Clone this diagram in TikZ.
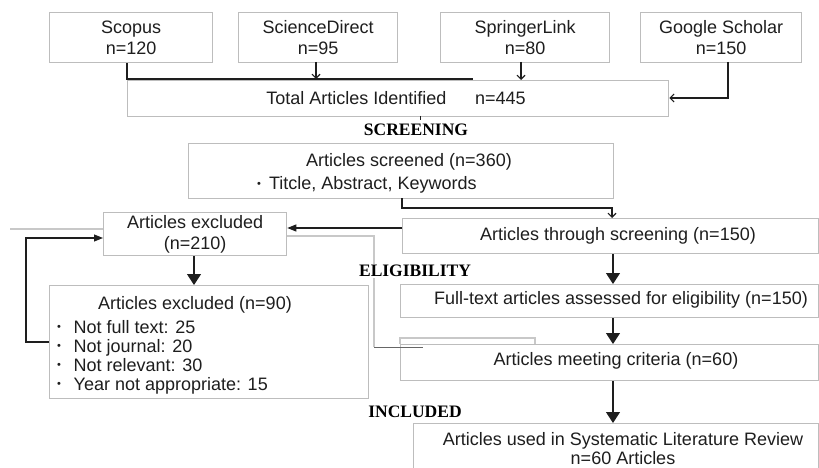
\documentclass[tikz,border=0pt]{standalone}
\usepackage{fontspec}
\setmainfont{Liberation Sans}
\newfontfamily\hdrfont{Liberation Serif}
\usetikzlibrary{arrows.meta}
\definecolor{boxgray}{HTML}{BDBDBD}
\definecolor{lightln}{HTML}{C8C8C8}
\definecolor{ink}{HTML}{1E1E1E}
\newcommand{\smbul}{\raisebox{0.25ex}{\fontsize{11}{11}\selectfont\textbullet}}
\begin{document}
\begin{tikzpicture}[x=1pt,y=-1pt,
  box/.style={draw=boxgray, line width=1.3pt, inner sep=0pt, anchor=north west,
    align=center, text=ink, font=\fontsize{18}{21}\selectfont},
  txt/.style={inner sep=0pt, text=ink, font=\fontsize{18}{19}\selectfont},
  hdr/.style={inner sep=1pt, fill=white, text=black, font=\hdrfont\bfseries\fontsize{17.5}{18}\selectfont},
  conn/.style={draw=ink, line width=1.1pt},
  gline/.style={draw=lightln, line width=1.3pt},
  bigarrow/.style={conn, -{Triangle[width=14pt,length=11pt]}},
  midarrow/.style={conn, -{Triangle[width=7pt,length=9pt]}},
  smallarrow/.style={conn, -{Straight Barb[length=4pt,width=8pt]}}
]
\useasboundingbox (0,0) rectangle (819,468);
\fill[white] (0,0) rectangle (819,468);

% light lines (behind)
\draw[gline] (10,229) -- (103,229);
\draw[gline] (286,236) -- (374,236) -- (374,347);
\draw[gline] (400,344) -- (400,338) -- (535,338) -- (535,344);

% source boxes
\node[box, minimum width=163pt, minimum height=50pt] (scopus) at (49,12) {Scopus\\n=120};
\node[box, minimum width=159pt, minimum height=50pt] (sd) at (238,12) {ScienceDirect\\n=95};
\node[box, minimum width=169pt, minimum height=50pt] (sl) at (440,12) {SpringerLink\\n=80};
\node[box, minimum width=161pt, minimum height=50pt] (gs) at (640,12) {Google Scholar\\n=150};

% total
\node[box, minimum width=541pt, minimum height=36pt] (total) at (127,80) {};
\node[txt] (totalt) at (396,98) {Total Articles Identified\hspace{1.6em}n=445};

\node[hdr] (hscreen) at (416,130) {SCREENING};

% screened
\node[box, minimum width=425pt, minimum height=55pt] (screened) at (188,143) {};
\node[txt] (scrt1) at (409,162) {Articles screened (n=360)};
\node[txt, anchor=west] (scrt2) at (257,185) {\smbul\hspace{0.45em}Titcle, Abstract, Keywords};

% through screening
\node[box, minimum width=416pt, minimum height=35pt] (through) at (402,218) {};
\node[txt] (thrt) at (618,236) {Articles through screening (n=150)};

% excluded 210
\node[box, fill=white, minimum width=183pt, minimum height=43pt] (ex210) at (103,212) {Articles excluded\\(n=210)};

\node[hdr] (helig) at (415,271) {ELIGIBILITY};

% full text
\node[box, minimum width=418pt, minimum height=33pt] (full) at (400,284) {};
\node[txt] (fullt) at (621,300) {Full-text articles assessed for eligibility (n=150)};

% excluded 90
\node[box, minimum width=319pt, minimum height=113pt] (ex90) at (49,285) {};
\node[txt] (ex90t) at (195,305) {Articles excluded (n=90)};
\node[txt, anchor=base west] (ex90a) at (57,333) {\smbul\hspace{0.7em}Not full text: 25};
\node[txt, anchor=base west] (ex90b) at (57,352) {\smbul\hspace{0.7em}Not journal: 20};
\node[txt, anchor=base west] (ex90c) at (57,371) {\smbul\hspace{0.7em}Not relevant: 30};
\node[txt, anchor=base west] (ex90d) at (57,390) {\smbul\hspace{0.7em}Year not appropriate: 15};

% meeting criteria
\node[box, minimum width=418pt, minimum height=36pt] (meet) at (400,344) {};
\node[txt] (meett) at (616,361) {Articles meeting criteria (n=60)};

\node[hdr] (hincl) at (415,412) {INCLUDED};

% final
\node[box, minimum width=405pt, minimum height=60pt] (final) at (413,423) {};
\node[txt] (finalt) at (623,441) {Articles used in Systematic Literature Review};
\node[txt] (finalt2) at (623,458) {n=60 Articles};

% connectors top
\coordinate (barend) at (473,79);
\draw[conn] (scopus.south -| total.west) -- (total.west |- barend) -- (barend);
\draw[smallarrow] (316,62) -- (316,79);
\draw[smallarrow] (521,62) -- (521,80);
\draw[smallarrow] (728,62) -- (728,98) -- (total.east |- 0,98);
\draw[conn, line width=0.6pt] (420,116) -- (420,120);

% screened -> through
\draw[smallarrow] (402,198) -- (402,208) -- (612,208) -- (612,218);
% through -> excluded 210
\draw[midarrow] (through.west |- 0,228) -- (ex210.east |- 0,228);
% excluded 210 -> excluded 90
\draw[bigarrow] (ex210.south -| 194,0) -- (ex90.north -| 194,0);
% loop from ex90 back to ex210
\draw[midarrow] (ex90.west |- 0,342) -- (26,342) -- (26,238) -- (ex210.west |- 0,238);
\draw[conn, draw=gray!80!black, line width=1pt] (374,347) -- (423,347);

% main vertical arrows
\draw[bigarrow] (through.south -| 613,0) -- (full.north -| 613,0);
\draw[bigarrow] (full.south -| 613,0) -- (meet.north -| 613,0);
\draw[bigarrow] (meet.south -| 613,0) -- (final.north -| 613,0);
\end{tikzpicture}
\end{document}
